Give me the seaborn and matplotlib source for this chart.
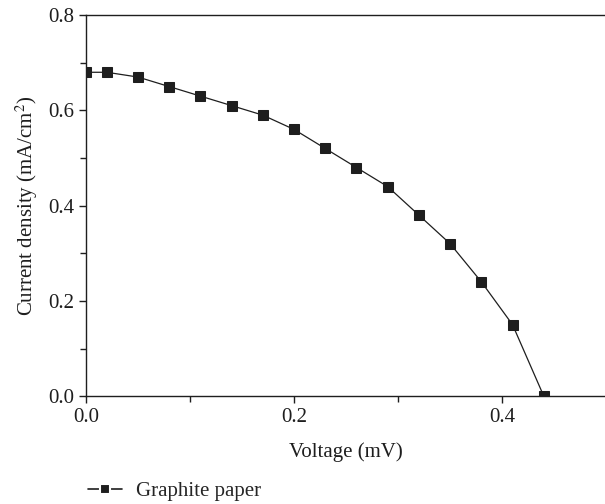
import pandas as pd
import matplotlib.pyplot as plt
import seaborn as sns
from matplotlib.ticker import MultipleLocator

voltage = [0.0, 0.02, 0.05, 0.08, 0.11, 0.14, 0.17, 0.20, 0.23, 0.26, 0.29, 0.32, 0.35, 0.38, 0.41, 0.44]
current = [0.68, 0.68, 0.67, 0.65, 0.63, 0.61, 0.59, 0.56, 0.52, 0.48, 0.44, 0.38, 0.32, 0.24, 0.15, 0.0]
series_name = "Graphite paper"

df = pd.DataFrame({"Voltage": voltage, "Current": current, "Sample": series_name})

sns.set_style("ticks")
plt.rcParams['font.family'] = ['Liberation Serif', 'DejaVu Serif']
plt.rcParams['mathtext.fontset'] = 'stix'
DARK = '#1e1e1e'
FS = 15

fig = plt.figure(figsize=(6.05, 5.04), dpi=100)
ax = fig.add_axes([0.142, 0.214, 0.86, 0.756])

sns.lineplot(data=df, x="Voltage", y="Current", hue="Sample", palette=[DARK],
             marker='s', markersize=6.8, markeredgecolor=DARK, linewidth=0.9,
             ax=ax, legend=False)

ax.set_xlim(0, 0.5)
ax.set_ylim(0, 0.8)
ax.xaxis.set_major_locator(MultipleLocator(0.2))
ax.xaxis.set_minor_locator(MultipleLocator(0.1))
ax.yaxis.set_major_locator(MultipleLocator(0.2))
ax.yaxis.set_minor_locator(MultipleLocator(0.1))
ax.xaxis.set_major_formatter(plt.FormatStrFormatter('%.1f'))
ax.yaxis.set_major_formatter(plt.FormatStrFormatter('%.1f'))
ax.tick_params(which='both', direction='out', length=5, width=1, colors=DARK, labelsize=FS)
ax.tick_params(which='minor', length=4)

ax.spines['right'].set_visible(False)
for s in ['left', 'bottom', 'top']:
    ax.spines[s].set_linewidth(1)
    ax.spines[s].set_color(DARK)

ax.set_xlabel("Voltage (mV)", fontsize=FS, color=DARK, labelpad=11)
ax.set_ylabel("Current density (mA/cm$^2$)", fontsize=FS, color=DARK, labelpad=6)

handle = plt.Line2D([], [], color=DARK, marker='s', markersize=7, markeredgecolor='white',
                    markeredgewidth=1.5, linewidth=1.2, linestyle='-')
fig.legend([handle], [series_name], loc='lower left', bbox_to_anchor=(0.115, -0.032),
           frameon=False, fontsize=FS, handlelength=1.6, handletextpad=0.7)

plt.savefig("out.png", dpi=100, facecolor='white')
plt.close()
